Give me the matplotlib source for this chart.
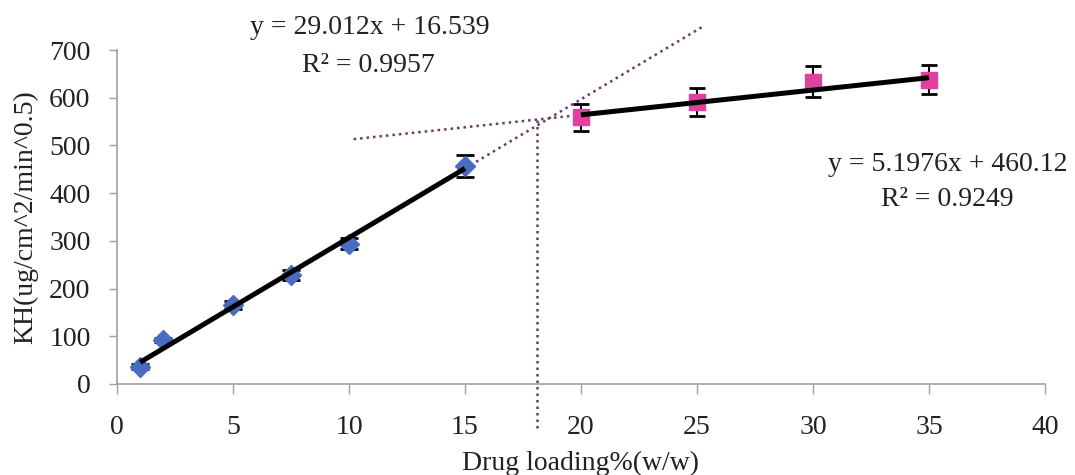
import matplotlib
matplotlib.use('Agg')
import matplotlib.pyplot as plt
import numpy as np

# Below 20 % loading (blue diamonds)
LOW_X = [1, 2, 5, 7.5, 10, 15]
LOW_Y = [36, 92, 165, 228, 294, 457]
LOW_ERR = [5, 5, 8, 10, 12, 23]

# 20 % and above (pink squares)
HIGH_X = [20, 25, 30, 35]
HIGH_Y = [559, 591, 634, 638]
HIGH_ERR = [28, 29, 32, 30]

# Excel trendlines as printed on the chart
LOW_FIT = (29.012, 16.539)
HIGH_FIT = (5.1976, 460.12)
LOW_LABEL = ['y = 29.012x + 16.539', 'R² = 0.9957']
HIGH_LABEL = ['y = 5.1976x + 460.12', 'R² = 0.9249']

# dotted construction lines
LOW_EXT = (15, 25.2)
HIGH_EXT = (10.2, 20)
BREAK_X = 18.1
BREAK_Y_RANGE = (-92, 556)

X_TICKS = [0, 5, 10, 15, 20, 25, 30, 35, 40]
Y_TICKS = [0, 100, 200, 300, 400, 500, 600, 700]

BLUE = '#4a6cc0'
PINK = '#e0409f'
DOTS = '#6b3a6b'
TEXT = '#222222'
FS = 20


def line(fit, x0, x1):
    xs = np.array([x0, x1])
    return xs, fit[0] * xs + fit[1]


def main():
    plt.rcParams['font.family'] = ['Liberation Serif', 'DejaVu Serif']
    fig = plt.figure(figsize=(10.75, 4.75), dpi=100)
    ax = fig.add_axes([0.1088, 0.1916, 0.8633, 0.7031])

    # dotted extensions and the break marker
    dot = dict(ls=(0, (1, 1.6)), color=DOTS, lw=1.8, clip_on=False, zorder=2)
    ax.plot(*line(LOW_FIT, *LOW_EXT), **dot)
    ax.plot(*line(HIGH_FIT, *HIGH_EXT), **dot)
    ax.plot([BREAK_X, BREAK_X], BREAK_Y_RANGE, **dot)

    # data with error bars
    ax.errorbar(LOW_X, LOW_Y, yerr=LOW_ERR, fmt='D', color=BLUE, ms=10, mec=BLUE,
                ecolor='black', elinewidth=1.5, capsize=6.5, capthick=2, zorder=3)
    ax.errorbar(HIGH_X, HIGH_Y, yerr=HIGH_ERR, fmt='s', color=PINK, ms=11, mec=PINK,
                ecolor='black', elinewidth=1.5, capsize=6, capthick=2, zorder=3)

    # trendlines
    ax.plot(*line(LOW_FIT, LOW_X[0], LOW_X[-1]), color='black', lw=3.6, solid_capstyle='butt', zorder=4)
    ax.plot(*line(HIGH_FIT, HIGH_X[0], HIGH_X[-1]), color='black', lw=3.6, solid_capstyle='butt', zorder=4)

    ax.text(10.9, 748, LOW_LABEL[0], ha='center', va='center', fontsize=FS, color=TEXT)
    ax.text(10.82, 667, LOW_LABEL[1], ha='center', va='center', fontsize=FS, color=TEXT)
    ax.text(35.8, 459, HIGH_LABEL[0], ha='center', va='center', fontsize=FS, color=TEXT)
    ax.text(35.8, 386, HIGH_LABEL[1], ha='center', va='center', fontsize=FS, color=TEXT)

    ax.set_xlim(0, 40)
    ax.set_ylim(0, 700)
    ax.set_xticks(X_TICKS)
    ax.set_yticks(Y_TICKS)
    for side in ['top', 'right']:
        ax.spines[side].set_visible(False)
    for side in ['left', 'bottom']:
        ax.spines[side].set_color('#a0a0a0')
        ax.spines[side].set_linewidth(1.2)
    ax.tick_params(axis='x', direction='out', length=7, width=1, color='#a0a0a0',
                   labelsize=FS, labelcolor=TEXT, pad=15)
    ax.tick_params(axis='y', direction='out', length=6, width=1, color='#a0a0a0',
                   labelsize=FS, labelcolor=TEXT, pad=13)

    ax.set_xlabel('Drug loading%(w/w)', fontsize=FS, color=TEXT, labelpad=8)
    ax.set_ylabel('KH(ug/cm^2/min^0.5)', fontsize=FS, color=TEXT, labelpad=8)

    fig.savefig('out.png', dpi=100)


if __name__ == "__main__":
    main()
